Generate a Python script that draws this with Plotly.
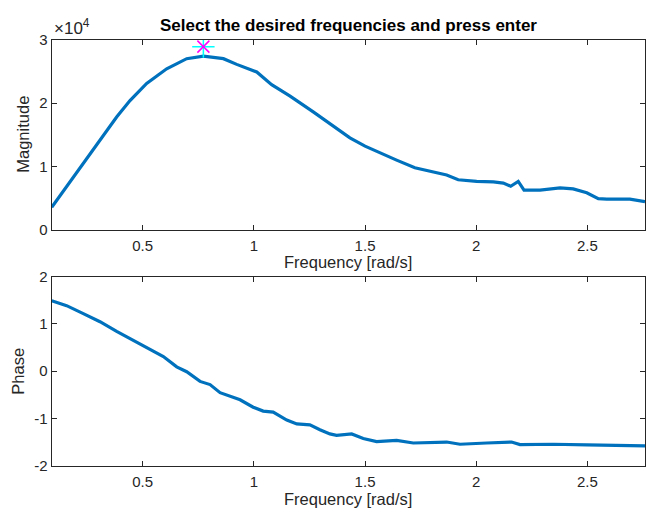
import plotly.graph_objects as go

# Frequency response estimate: magnitude and phase against frequency
freq_mag = [0.091, 0.158, 0.278, 0.331, 0.383, 0.443, 0.518, 0.608, 0.698, 0.773,
            0.863, 0.923, 1.013, 1.080, 1.163, 1.267, 1.342, 1.432, 1.500, 1.567,
            1.642, 1.724, 1.792, 1.867, 1.919, 2.002, 2.077, 2.122, 2.155, 2.189,
            2.215, 2.287, 2.377, 2.436, 2.497, 2.549, 2.587, 2.691, 2.759]
magnitude = [3560, 6870, 12700, 15300, 17800, 20400, 23100, 25400, 27000, 27400,
             27000, 26100, 24900, 22900, 21100, 18600, 16800, 14500, 13200, 12100,
             11000, 9800, 9250, 8640, 7900, 7630, 7570, 7370, 6870, 7630,
             6260, 6260, 6610, 6460, 5850, 4930, 4830, 4830, 4430]

freq_phase = [0.091, 0.158, 0.233, 0.308, 0.383, 0.458, 0.533, 0.593, 0.653, 0.698,
              0.758, 0.803, 0.848, 0.908, 0.938, 0.997, 1.042, 1.087, 1.148, 1.193,
              1.252, 1.297, 1.342, 1.372, 1.440, 1.492, 1.552, 1.642, 1.717, 1.867,
              1.927, 2.047, 2.159, 2.197, 2.346, 2.497, 2.601, 2.759]
phase = [1.489, 1.387, 1.217, 1.047, 0.842, 0.650, 0.466, 0.311, 0.092, -0.010,
         -0.215, -0.282, -0.454, -0.556, -0.603, -0.761, -0.843, -0.863, -1.033, -1.115,
         -1.135, -1.237, -1.325, -1.354, -1.325, -1.421, -1.489, -1.462, -1.517, -1.497,
         -1.544, -1.517, -1.497, -1.550, -1.544, -1.558, -1.571, -1.579]

# Selected peak frequency
peak_freq = [0.773]
peak_mark = [28900]

x_ticks = [0.5, 1, 1.5, 2, 2.5]
x_tick_text = ["0.5", "1", "1.5", "2", "2.5"]
mag_ticks = [0, 10000, 20000, 30000]
mag_tick_text = ["0", "1", "2", "3"]
phase_ticks = [-2, -1, 0, 1, 2]
phase_tick_text = ["-2", "-1", "0", "1", "2"]

W, H = 651, 519
LINE = "#0072BD"
AX = "#262626"
FONT = "Liberation Sans, Arial, Helvetica, sans-serif"

fig = go.Figure()
fig.add_trace(go.Scatter(x=freq_mag, y=magnitude, mode="lines",
                         line=dict(color=LINE, width=3.2), xaxis="x", yaxis="y",
                         showlegend=False, hoverinfo="skip"))
fig.add_trace(go.Scatter(x=peak_freq, y=peak_mark, mode="markers",
                         marker=dict(symbol="cross-thin", size=16,
                                     line=dict(color="#00FFFF", width=1.5)),
                         xaxis="x", yaxis="y", showlegend=False, hoverinfo="skip"))
fig.add_trace(go.Scatter(x=peak_freq, y=peak_mark, mode="markers",
                         marker=dict(symbol="x-thin", size=12,
                                     line=dict(color="#FF00FF", width=1.5)),
                         xaxis="x", yaxis="y", showlegend=False, hoverinfo="skip"))
fig.add_trace(go.Scatter(x=freq_phase, y=phase, mode="lines",
                         line=dict(color=LINE, width=3.2), xaxis="x2", yaxis="y2",
                         showlegend=False, hoverinfo="skip"))

x_dom = [51.7 / W, 645 / W]
top_dom = [(H - 228.3) / H, (H - 31.7) / H]
bot_dom = [(H - 472.3) / H, (H - 276.7) / H]

axis_common = dict(showline=True, linecolor=AX, linewidth=1, mirror="ticks",
                   ticks="inside", ticklen=5, tickcolor=AX, tickwidth=1,
                   showgrid=False, zeroline=False,
                   tickfont=dict(family=FONT, size=15, color=AX))

fig.update_layout(
    width=W, height=H,
    margin=dict(l=0, r=0, t=0, b=0),
    paper_bgcolor="white", plot_bgcolor="white",
    xaxis=dict(domain=x_dom, anchor="y", range=[0.0909, 2.759],
               tickvals=x_ticks, ticktext=x_tick_text, ticklabelstandoff=2,
               **axis_common),
    yaxis=dict(domain=top_dom, anchor="x", range=[0, 30000],
               tickvals=mag_ticks, ticktext=mag_tick_text, **axis_common),
    xaxis2=dict(domain=x_dom, anchor="y2", range=[0.0909, 2.759],
                tickvals=x_ticks, ticktext=x_tick_text, ticklabelstandoff=2,
                **axis_common),
    yaxis2=dict(domain=bot_dom, anchor="x2", range=[-2, 2],
                tickvals=phase_ticks, ticktext=phase_tick_text, **axis_common),
    annotations=[
        dict(text="<b>Select the desired frequencies and press enter</b>",
             x=348 / W, y=(H - 17.5) / H, xref="paper", yref="paper",
             showarrow=False, xanchor="center", yanchor="middle",
             font=dict(family=FONT, size=17, color="black")),
        dict(text="×10<sup>4</sup>", x=52 / W, y=(H - 19) / H,
             xref="paper", yref="paper", showarrow=False,
             xanchor="left", yanchor="middle",
             font=dict(family=FONT, size=17, color=AX)),
        dict(text="Frequency [rad/s]", x=348 / W, y=(H - 261.5) / H,
             xref="paper", yref="paper", showarrow=False,
             xanchor="center", yanchor="middle",
             font=dict(family=FONT, size=16.5, color=AX)),
        dict(text="Frequency [rad/s]", x=348 / W, y=(H - 507) / H,
             xref="paper", yref="paper", showarrow=False,
             xanchor="center", yanchor="middle",
             font=dict(family=FONT, size=16.5, color=AX)),
        dict(text="Magnitude", x=23 / W, y=(H - 130) / H,
             xref="paper", yref="paper", showarrow=False, textangle=-90,
             xanchor="center", yanchor="middle",
             font=dict(family=FONT, size=16.5, color=AX)),
        dict(text="Phase", x=18.5 / W, y=(H - 374.5) / H,
             xref="paper", yref="paper", showarrow=False, textangle=-90,
             xanchor="center", yanchor="middle",
             font=dict(family=FONT, size=16.5, color=AX)),
    ],
)

fig.write_html("out.html")
